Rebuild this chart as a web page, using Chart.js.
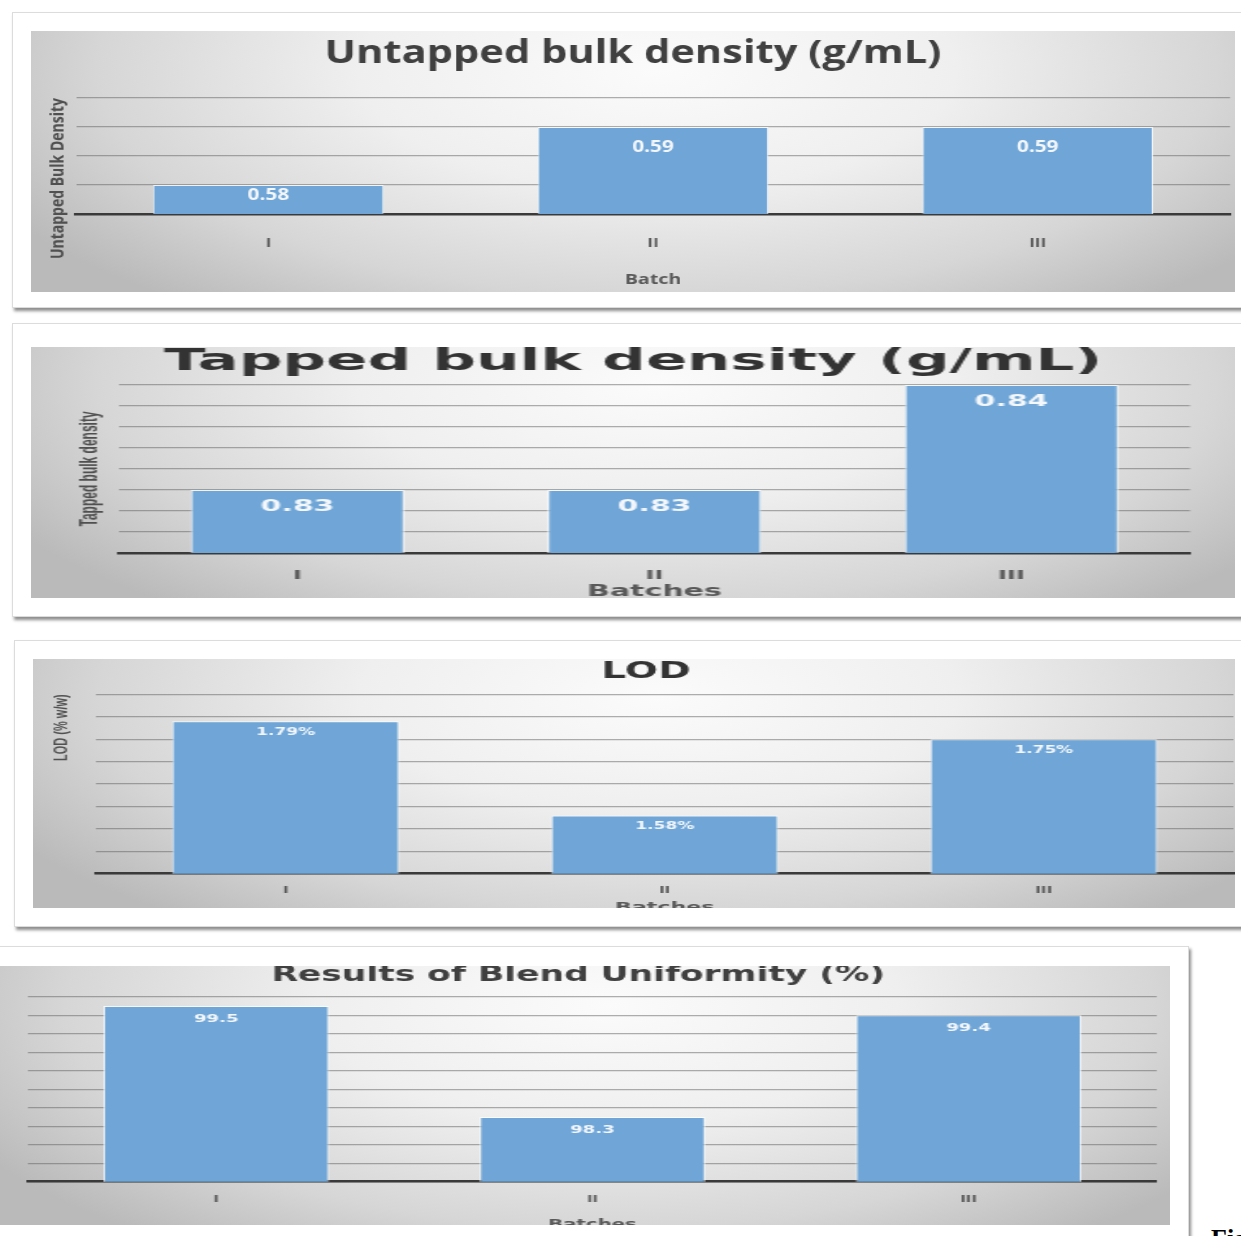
<!DOCTYPE html>
<html><head><meta charset="utf-8">
<script src="https://cdn.jsdelivr.net/npm/chart.js@4.4.1/dist/chart.umd.min.js"></script>
<style>
html,body{margin:0;padding:0;background:#fff;}
body{width:1241px;height:1236px;overflow:hidden;position:relative;}
.outer{position:absolute;background:#fff;border:1px solid #dcdcdc;box-shadow:2px 3px 3px rgba(0,0,0,.45);}
.plot{position:absolute;overflow:hidden;
 background:radial-gradient(ellipse 62% 115% at 52% 15%, #fbfbfb 0%, #efefef 40%, #d6d6d6 75%, #bababa 100%);}
.plot canvas{display:block;}
.fig{position:absolute;left:1211px;top:1224px;font:bold 26px 'Liberation Serif','DejaVu Serif',serif;color:#000;white-space:nowrap;}
</style></head><body>
<div class="outer" style="left:12px;top:12px;width:1250px;height:294px"></div>
<div class="plot" style="left:31px;top:31px;width:1204px;height:261px"><canvas id="c1" width="926" height="261" style="width:1204px;height:261px"></canvas></div>

<div class="outer" style="left:12px;top:323px;width:1250px;height:292px"></div>
<div class="plot" style="left:31px;top:347px;width:1204px;height:251px"><canvas id="c2" width="602" height="251" style="width:1204px;height:251px"></canvas></div>

<div class="outer" style="left:14px;top:640px;width:1250px;height:285px"></div>
<div class="plot" style="left:33px;top:659px;width:1202px;height:249px"><canvas id="c3" width="707" height="249" style="width:1202px;height:249px"></canvas></div>

<div class="outer" style="left:-10px;top:946px;width:1197px;height:320px"></div>
<div class="plot" style="left:0px;top:966px;width:1170px;height:259px"><canvas id="c4" width="713" height="259" style="width:1170px;height:259px"></canvas></div>

<div class="fig">Figure</div>

<script>
// ---- data ----
const batches = ['I', 'II', 'III'];
const untappedDensity = [0.58, 0.59, 0.59];
const tappedDensity = [0.83, 0.83, 0.84];
const lodPercent = [1.79, 1.58, 1.75];
const blendUniformity = [99.5, 98.3, 99.4];

const untappedAxis = [0.575, 0.595, 0.005];
const tappedAxis = [0.824, 0.840, 0.002];
const lodAxis = [1.45, 1.85, 0.05];
const blendAxis = [97.6, 99.6, 0.2];

const BAR = '#6fa6d7';
const GRID = 'rgba(95,95,95,0.5)';

const valueLabels = {
  id: 'valueLabels',
  afterDatasetsDraw(chart, args, o) {
    const ctx = chart.ctx;
    const bottom = chart.chartArea.bottom;
    chart.data.datasets.forEach((ds, di) => {
      const meta = chart.getDatasetMeta(di);
      meta.data.forEach((bar, i) => {
        const v = ds.data[i];
        const h = Math.min(bar.base, bottom) - bar.y;
        const y = bar.y + Math.min(o.offset, h * 0.35);
        ctx.save();
        ctx.font = o.font;
        ctx.fillStyle = o.color;
        ctx.textAlign = 'center';
        ctx.textBaseline = 'middle';
        ctx.fillText(v.toFixed(o.decimals) + (o.suffix || ''), bar.x, y);
        ctx.restore();
      });
    });
  }
};

function makeChart(id, c) {
  const scales = {
    x: {
      grid: { display: false, drawTicks: false },
      border: { display: true, color: '#3a3a3a', width: 2.5 },
      ticks: { color: '#595959', font: c.tickFont, padding: c.tickPad },
      title: { display: true, text: c.xTitle, color: '#595959', font: c.xTitleFont, padding: { top: 0, bottom: c.xTitlePadBottom } },
      afterFit: (s) => { s.height = c.xHeight; }
    },
    y: {
      min: c.axis[0], max: c.axis[1],
      ticks: { display: false, stepSize: c.axis[2] },
      grid: { color: GRID, lineWidth: 1.3, drawTicks: false },
      border: { display: false },
      title: c.yTitle ? { display: true, text: c.yTitle, color: '#505050', font: c.yTitleFont, align: c.yAlign || 'center', padding: { top: c.yTitlePad, bottom: 0 } } : { display: false },
      afterFit: (s) => { s.width = c.yWidth; }
    }
  };
  if (c.rightWidth) {
    scales.yRight = {
      position: 'right', display: true,
      grid: { display: false, drawTicks: false },
      border: { display: false },
      ticks: { display: false },
      afterFit: (s) => { s.width = c.rightWidth; }
    };
  }
  return new Chart(document.getElementById(id), {
    type: 'bar',
    data: {
      labels: batches,
      datasets: [{
        data: c.values,
        backgroundColor: BAR,
        borderColor: 'rgba(255,255,255,0.75)',
        borderWidth: 1,
        barPercentage: 0.6,
        categoryPercentage: 1.0
      }]
    },
    plugins: [valueLabels],
    options: {
      responsive: false,
      animation: false,
      devicePixelRatio: 1,
      events: [],
      layout: { padding: { left: 0, right: c.padRight, top: 0, bottom: 0 } },
      plugins: {
        legend: { display: false },
        tooltip: { enabled: false },
        title: {
          display: true,
          text: c.title,
          color: c.titleColor,
          font: c.titleFont,
          padding: c.titlePad
        },
        valueLabels: c.labels
      },
      scales
    }
  });
}

makeChart('c1', {
  values: untappedDensity, axis: untappedAxis,
  title: 'Untapped bulk density (g/mL)', titleColor: '#404040',
  titleFont: { family: "'Open Sans', sans-serif", size: 32, weight: 'bold', lineHeight: 1 },
  titlePad: { top: 7, bottom: 28 },
  padRight: 0, rightWidth: 3.8, yWidth: 34.6, xHeight: 78,
  yTitle: 'Untapped Bulk Density', yAlign: 'end', yTitlePad: 12.4,
  yTitleFont: { family: "'Open Sans', sans-serif", size: 14, weight: 'bold', lineHeight: 1.2 },
  tickFont: { family: "'Open Sans', sans-serif", size: 13, weight: 'bold', lineHeight: 1.2 }, tickPad: 21.2,
  xTitle: 'Batch', xTitleFont: { family: "'Open Sans', sans-serif", size: 15, weight: 'bold', lineHeight: 1.2 }, xTitlePadBottom: 3,
  labels: { font: "bold 16px 'Open Sans'", color: '#f4f7fb', offset: 20, decimals: 2 }
});

makeChart('c2', {
  values: tappedDensity, axis: tappedAxis,
  title: 'Tapped bulk density (g/mL)', titleColor: '#333333',
  titleFont: { family: "'DejaVu Sans', sans-serif", size: 30.5, weight: 'bold', lineHeight: 0.8 },
  titlePad: { top: 2.8, bottom: 10.8 },
  padRight: 0, rightWidth: 22.5, yWidth: 44, xHeight: 45,
  yTitle: 'Tapped bulk density', yTitlePad: 22.8,
  yTitleFont: { family: "'Liberation Sans', sans-serif", size: 12, weight: 'bold', lineHeight: 1.2 },
  tickFont: { family: "'DejaVu Sans', sans-serif", size: 12, weight: 'bold', lineHeight: 1.2 }, tickPad: 15.8,
  xTitle: 'Batches', xTitleFont: { family: "'DejaVu Sans', sans-serif", size: 15, weight: 'bold', lineHeight: 0.8 }, xTitlePadBottom: 0,
  labels: { font: "bold 15px 'DejaVu Sans'", color: '#f4f7fb', offset: 17, decimals: 2 }
});

makeChart('c3', {
  values: lodPercent, axis: lodAxis,
  title: 'LOD', titleColor: '#333333',
  titleFont: { family: "'DejaVu Sans', sans-serif", size: 23, weight: 'bold', lineHeight: 0.7 },
  titlePad: { top: 4.5, bottom: 14.7 },
  padRight: -14, rightWidth: 15, yWidth: 37.1, xHeight: 34.3,
  yTitle: 'LOD (% w/w)', yAlign: 'end', yTitlePad: 10.4,
  yTitleFont: { family: "'Liberation Sans', sans-serif", size: 11, weight: 'bold', lineHeight: 1.2 },
  tickFont: { family: "'DejaVu Sans', sans-serif", size: 9, weight: 'bold', lineHeight: 1.2 }, tickPad: 11.9,
  xTitle: 'Batches', xTitleFont: { family: "'DejaVu Sans', sans-serif", size: 13, weight: 'bold', lineHeight: 1 }, xTitlePadBottom: -6.25,
  labels: { font: "bold 10px 'DejaVu Sans'", color: '#f4f7fb', offset: 11.5, decimals: 2, suffix: '%' }
});

makeChart('c4', {
  values: blendUniformity, axis: blendAxis,
  title: 'Results of Blend Uniformity (%)', titleColor: '#404040',
  titleFont: { family: "'DejaVu Sans', sans-serif", size: 21, weight: 'bold', lineHeight: 0.8 },
  titlePad: { top: 1.6, bottom: 12.3 },
  padRight: 8.1, yWidth: 17.1, xHeight: 43.3,
  yTitle: null,
  tickFont: { family: "'DejaVu Sans', sans-serif", size: 9, weight: 'bold', lineHeight: 1.2 }, tickPad: 12.9,
  xTitle: 'Batches', xTitleFont: { family: "'DejaVu Sans', sans-serif", size: 12, weight: 'bold', lineHeight: 1 }, xTitlePadBottom: -5.4,
  labels: { font: "bold 11px 'DejaVu Sans'", color: '#f4f7fb', offset: 13, decimals: 1 }
});
</script>
</body></html>
